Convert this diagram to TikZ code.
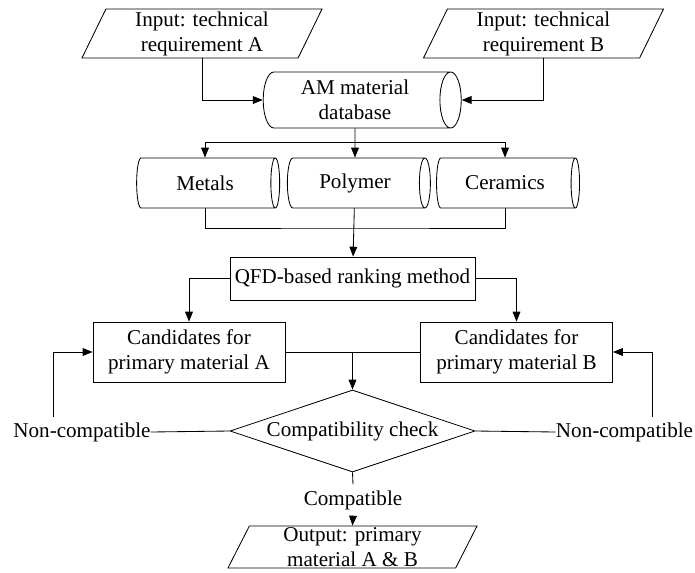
\documentclass[tikz,border=0pt]{standalone}
\usepackage{fontspec}
\setmainfont{Liberation Serif}
\usetikzlibrary{shapes.geometric,arrows.meta}
\begin{document}
\begin{tikzpicture}[x=0.025cm,y=-0.025cm,line width=0.6pt,>={Triangle[length=7pt,width=5.5pt]},font=\fontsize{15}{17.8}\selectfont]
        \tikzstyle{io}=[trapezium,trapezium left angle=63,trapezium right angle=117,draw,align=center,inner sep=1pt,minimum height=1.225cm,trapezium stretches body]
        \tikzstyle{store}=[cylinder,draw,aspect=0.5,inner sep=1pt,align=center]
        \tikzstyle{process}=[rectangle,draw,align=center,inner sep=1pt]
        \tikzstyle{decision}=[diamond,draw,aspect=3,inner sep=0pt,minimum width=6.125cm,minimum height=2.05cm]
        \tikzstyle{note}=[inner xsep=0pt,inner ysep=4pt]
        \tikzstyle{link}=[draw,line width=0.6pt]
        \useasboundingbox (0,0) rectangle (695,572);
       \begin{scope}
         \node [io,minimum width=6cm] (inA) at (202,33.5) {Input: technical\\requirement A};
         \node [io,minimum width=6cm] (inB) at (543.5,33.5) {Input: technical\\requirement B};
         \node [store,minimum height=4.95cm,minimum width=1.4cm] (db) at (355,100) {AM material\\database};
         \node [store,minimum height=3.575cm,minimum width=1.25cm] (met) at (205,183) {Metals};
         \node [store,minimum height=3.575cm,minimum width=1.25cm] (poly) at (355,183) {Polymer};
         \node [store,minimum height=3.575cm,minimum width=1.25cm] (cer) at (505,183) {Ceramics};
         \node [process,minimum width=6.125cm,minimum height=1.075cm] (qfd) at (352.5,278.5) {QFD-based ranking method};
         \node [process,minimum width=4.8cm,minimum height=1.5cm] (candA) at (189,352) {Candidates for\\primary material A};
         \node [process,minimum width=4.8cm,minimum height=1.5cm] (candB) at (516.5,352) {Candidates for\\primary material B};
         \node [decision] (check) at (352.5,431) {Compatibility check};
         \node [note] (ncA) at (82,432) {Non-compatible};
         \node [note] (ncB) at (624.5,432) {Non-compatible};
         \node [note] (compat) at (353,500) {Compatible};
         \node [io,minimum width=6.225cm,minimum height=1.05cm] (out) at (352.5,547) {Output: primary\\material A \& B};
         \coordinate (split) at (355,142);
         \coordinate (merge) at (355,228);
         \coordinate (fbA) at (53,417);
         \coordinate (fbB) at (652,417);
         % inputs into the database
         \path[link,->] (inA.south) |- (db.west);
         \path[link,->] (inB.south) |- (db.east);
         % database split into material classes
         \path[link,->] (db) -- (poly);
         \path[link,->] (split) -| (met.north);
         \path[link,->] (split) -| (cer.north);
         \path[link] (met.south) |- (merge) -| (cer.south);
         \path[link,->] (poly) -- (qfd);
         % ranking
         \path[link,->] (qfd.west) -| (candA.north);
         \path[link,->] (qfd.east) -| (candB.north);
         \path[link] (candA.east) -- (candB.west);
         \path[link,->] (candA.east -| check.north) -- (check.north);
         % feedback loops
         \path[link] (check.west) -- (ncA.east);
         \path[link] (check.east) -- (ncB.west);
         \path[link,->] (fbA) |- (candA.west);
         \path[link,->] (fbB) |- (candB.east);
         \path[link] (check.south) -- (compat.north);
         \path[link,->] (compat.south) -- (out.north);
        \end{scope}
      \end{tikzpicture}
\end{document}
